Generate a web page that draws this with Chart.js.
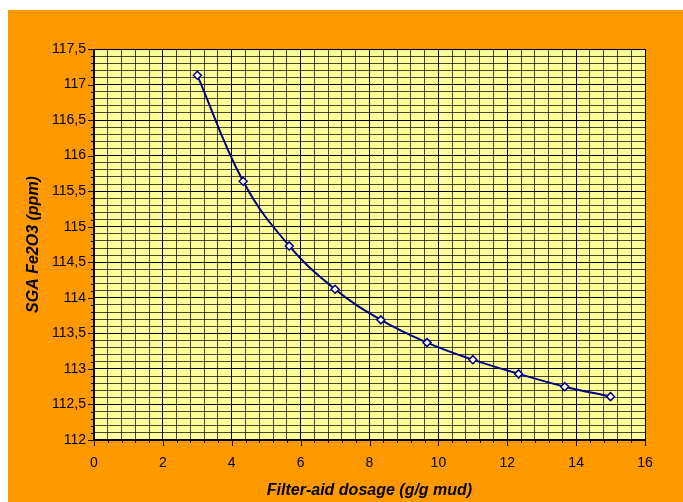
<!DOCTYPE html>
<html>
<head>
<meta charset="utf-8">
<script src="https://cdn.jsdelivr.net/npm/chart.js@4/dist/chart.umd.min.js"></script>
<style>
  html, body { margin: 0; padding: 0; background: #ffffff; }
  #wrap { position: relative; width: 683px; height: 502px; }
</style>
</head>
<body>
<div id="wrap"><canvas id="c" width="683" height="502"></canvas></div>
<script>
// Filter-aid dosage (g/g mud) and resulting SGA Fe2O3 (ppm)
const dosage = [3, 4.33, 5.67, 7, 8.33, 9.67, 11, 12.33, 13.67, 15];
const fe2o3 = [117.13, 115.64, 114.73, 114.12, 113.69, 113.37, 113.13, 112.93, 112.75, 112.61];

// Axis ranges, labelled step and minor grid step
const xRange = [0, 16];
const xMajor = 2;
const xMinor = 0.4;
const yRange = [112, 117.5];
const yMajor = 0.5;
const yMinor = 0.1;

const xTitle = 'Filter-aid dosage (g/g mud)';
const yTitle = 'SGA Fe2O3 (ppm)';

const isMajor = (v, step) => Math.abs(v / step - Math.round(v / step)) < 1e-6;
const fmt = v => {
  const r = Math.round(v * 10) / 10;
  return Number.isInteger(r) ? String(r) : r.toFixed(1).replace('.', ',');
};

const FONT = "'Liberation Sans', Arial, sans-serif";

// Orange frame and pale-yellow plot area
const backdrop = {
  id: 'backdrop',
  beforeDraw(chart) {
    const { ctx, chartArea: a } = chart;
    ctx.save();
    ctx.fillStyle = '#ffffff';
    ctx.fillRect(0, 0, chart.width, chart.height);
    ctx.fillStyle = '#ff9900';
    ctx.fillRect(8, 10, chart.width - 8, chart.height - 10);
    ctx.fillStyle = '#ffff99';
    ctx.fillRect(a.left, a.top, a.right - a.left, a.bottom - a.top);
    ctx.restore();
  }
};

// Short outside tick marks: long at labelled values, short at minor steps
const tickMarks = {
  id: 'tickMarks',
  afterDatasetsDraw(chart) {
    const { ctx, chartArea: a, scales: { x, y } } = chart;
    ctx.save();
    ctx.strokeStyle = '#000000';
    ctx.lineWidth = 1;
    ctx.beginPath();
    x.ticks.forEach(t => {
      const px = Math.round(x.getPixelForValue(t.value)) + 0.5;
      const len = isMajor(t.value, xMajor) ? 6 : 3;
      ctx.moveTo(px, a.bottom);
      ctx.lineTo(px, a.bottom + len);
    });
    y.ticks.forEach(t => {
      const py = Math.round(y.getPixelForValue(t.value)) + 0.5;
      const len = isMajor(t.value - yRange[0], yMajor) ? 6 : 3;
      ctx.moveTo(a.left, py);
      ctx.lineTo(a.left - len, py);
    });
    ctx.stroke();
    // heavier axis lines along the left and bottom edges
    ctx.lineWidth = 2;
    ctx.beginPath();
    ctx.moveTo(a.left, a.top);
    ctx.lineTo(a.left, a.bottom);
    ctx.lineTo(a.right, a.bottom);
    ctx.stroke();
    ctx.restore();
  }
};

const gridColor = major => major ? '#000000' : 'rgba(0,0,0,0.72)';

new Chart(document.getElementById('c'), {
  type: 'scatter',
  data: {
    datasets: [{
      data: dosage.map((d, i) => ({ x: d, y: fe2o3[i] })),
      showLine: true,
      tension: 0.4,
      borderColor: '#000080',
      borderWidth: 2,
      pointStyle: 'rectRot',
      pointRadius: 4,
      pointHoverRadius: 4,
      pointBackgroundColor: '#ffffff',
      pointBorderColor: '#000080',
      pointBorderWidth: 1.5
    }]
  },
  options: {
    responsive: false,
    animation: false,
    events: [],
    layout: { padding: { top: 49, right: 38, left: 0, bottom: 0 } },
    plugins: { legend: { display: false }, tooltip: { enabled: false } },
    scales: {
      x: {
        type: 'linear',
        min: xRange[0],
        max: xRange[1],
        afterFit(s) { s.height = 62; },
        ticks: {
          stepSize: xMinor,
          autoSkip: false,
          maxRotation: 0,
          padding: 15,
          color: '#000000',
          font: { family: FONT, size: 14 },
          callback: v => isMajor(v, xMajor) ? fmt(v) : ''
        },
        grid: {
          drawTicks: false,
          lineWidth: 1,
          color: c => gridColor(c.tick && isMajor(c.tick.value, xMajor))
        },
        border: { display: true, color: '#000000', width: 1 },
        title: {
          display: true,
          text: xTitle,
          color: '#000000',
          font: { family: FONT, size: 16, weight: 'bold', style: 'italic' },
          padding: { top: 0, bottom: 2 }
        }
      },
      y: {
        type: 'linear',
        min: yRange[0],
        max: yRange[1],
        afterFit(s) { s.width = 94; },
        ticks: {
          stepSize: yMinor,
          autoSkip: false,
          padding: 8,
          color: '#000000',
          font: { family: FONT, size: 14 },
          callback: v => isMajor(v - yRange[0], yMajor) ? fmt(v) : ''
        },
        grid: {
          drawTicks: false,
          lineWidth: 1,
          color: c => gridColor(c.tick && isMajor(c.tick.value - yRange[0], yMajor))
        },
        border: { display: true, color: '#000000', width: 1 },
        title: {
          display: true,
          text: yTitle,
          color: '#000000',
          font: { family: FONT, size: 16, weight: 'bold', style: 'italic' },
          padding: { top: 24, bottom: 0 }
        }
      }
    }
  },
  plugins: [backdrop, tickMarks]
});
</script>
</body>
</html>
